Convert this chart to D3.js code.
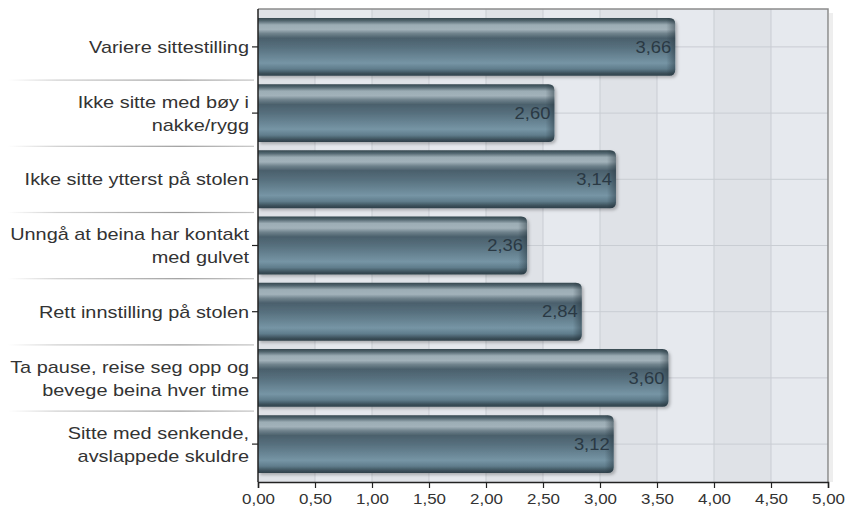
<!DOCTYPE html>
<html>
<head>
<meta charset="utf-8">
<script src="https://cdn.jsdelivr.net/npm/d3@7"></script>
<style>
html,body{margin:0;padding:0;background:#fff;}
svg{display:block;}
text{font-family:"Liberation Sans",Arial,Helvetica,sans-serif;}
</style>
</head>
<body>
<svg id="chart" width="848" height="514"></svg>
<script>
const categories = [
  ["Variere sittestilling"],
  ["Ikke sitte med bøy i", "nakke/rygg"],
  ["Ikke sitte ytterst på stolen"],
  ["Unngå at beina har kontakt", "med gulvet"],
  ["Rett innstilling på stolen"],
  ["Ta pause, reise seg opp og", "bevege beina hver time"],
  ["Sitte med senkende,", "avslappede skuldre"]
];
const values = [3.66, 2.60, 3.14, 2.36, 2.84, 3.60, 3.12];
const xTicks = [0, 0.5, 1, 1.5, 2, 2.5, 3, 3.5, 4, 4.5, 5];

const W = 848, H = 514;
const m = {left: 258, right: 20, top: 9, bottom: 32};
const svg = d3.select("#chart");
const defs = svg.append("defs");
const fmt = v => d3.format(".2f")(v).replace(".", ",");

const x = d3.scaleLinear().domain([0, 5]).range([m.left, W - m.right]);
const idx = d3.range(categories.length);
const y = d3.scaleBand().domain(idx).range([m.top, H - m.bottom]).paddingInner(0.125).paddingOuter(0.135);

// gradients
const bg = defs.append("linearGradient").attr("id", "barGrad").attr("x1", 0).attr("y1", 0).attr("x2", 0).attr("y2", 1);
[[0, "#34474f"], [0.05, "#52666f"], [0.12, "#9cadb5"], [0.2, "#a2b2ba"], [0.27, "#6f828c"], [0.35, "#4b606c"],
 [0.5, "#566f7d"], [0.78, "#7695a5"], [0.88, "#607d8c"], [0.96, "#3a4e58"], [1, "#2f404a"]]
  .forEach(([o, c]) => bg.append("stop").attr("offset", o).attr("stop-color", c));
const cg = defs.append("linearGradient").attr("id", "capGrad").attr("x1", 0).attr("y1", 0).attr("x2", 1).attr("y2", 0);
cg.append("stop").attr("offset", 0).attr("stop-color", "#1e2d36").attr("stop-opacity", 0);
cg.append("stop").attr("offset", 1).attr("stop-color", "#1e2d36").attr("stop-opacity", 0.45);
const sg = defs.append("linearGradient").attr("id", "sepGrad").attr("x1", 0).attr("y1", 0).attr("x2", 1).attr("y2", 0);
[[0, "#ffffff"], [0.2, "#cfcfcf"], [0.7, "#9a9a9a"], [1, "#c4c4c4"]]
  .forEach(([o, c]) => sg.append("stop").attr("offset", o).attr("stop-color", c));
const f = defs.append("filter").attr("id", "shadow").attr("x", "-5%").attr("y", "-20%").attr("width", "110%").attr("height", "150%");
f.append("feDropShadow").attr("dx", 2).attr("dy", 2).attr("stdDeviation", 1.5).attr("flood-color", "#000").attr("flood-opacity", 0.25);

const pTop = m.top, pBot = H - m.bottom, pL = m.left, pR = W - m.right;

// plot shadow on right
svg.append("rect").attr("x", pR + 1).attr("y", pTop + 4).attr("width", 4).attr("height", pBot - pTop - 4)
  .attr("fill", "#eeeeee");

// plot background with alternating stripes
const bands = xTicks.slice(0, -1);
svg.append("g").selectAll("rect").data(bands).join("rect")
  .attr("x", d => x(d)).attr("y", pTop)
  .attr("width", d => x(d + 0.5) - x(d)).attr("height", pBot - pTop)
  .attr("fill", (d, i) => i % 2 === 0 ? "#dfe2e7" : "#e6e9ee");

// grid lines
svg.append("g").selectAll("line").data(xTicks.slice(1, -1)).join("line")
  .attr("x1", d => x(d)).attr("x2", d => x(d)).attr("y1", pTop).attr("y2", pBot)
  .attr("stroke", "#c9cdd3").attr("stroke-width", 1);
svg.append("g").selectAll("line").data(idx).join("line")
  .attr("x1", pL).attr("x2", pR)
  .attr("y1", d => y(d) + y.bandwidth() / 2).attr("y2", d => y(d) + y.bandwidth() / 2)
  .attr("stroke", "#c9cdd3").attr("stroke-width", 1);

// border top/right
svg.append("path").attr("d", `M${pL},${pTop}H${pR}V${pBot}`).attr("fill", "none")
  .attr("stroke", "#8c8c8c").attr("stroke-width", 1.5);

// bars
const r = 6;
const barPath = (x0, x1, y0, h) => {
  const rr = Math.min(r, (x1 - x0));
  return `M${x0},${y0}H${x1 - rr}Q${x1},${y0} ${x1},${y0 + rr}V${y0 + h - rr}Q${x1},${y0 + h} ${x1 - rr},${y0 + h}H${x0}Z`;
};
const gb = svg.append("g");
gb.selectAll("path.bar").data(idx).join("path").attr("class", "bar")
  .attr("d", i => barPath(x(0), x(values[i]), y(i), y.bandwidth()))
  .attr("fill", "url(#barGrad)").attr("filter", "url(#shadow)");
gb.selectAll("path.cap").data(idx).join("path").attr("class", "cap")
  .attr("d", i => barPath(x(values[i]) - 9, x(values[i]), y(i), y.bandwidth()))
  .attr("fill", "url(#capGrad)");
gb.selectAll("text").data(idx).join("text")
  .attr("transform", i => `translate(${x(values[i]) - 4},${y(i) + y.bandwidth() / 2}) scale(1.15,1)`)
  .attr("dy", "0.36em")
  .attr("text-anchor", "end")
  .attr("font-size", 16)
  .attr("fill", "#2a3944")
  .text(i => fmt(values[i]));

// left separators
svg.append("g").selectAll("rect").data(idx.slice(0, -1)).join("rect")
  .attr("x", 8).attr("width", pL - 12)
  .attr("y", i => y(i) + y.step() - (y.step() - y.bandwidth()) / 2 - 0.5).attr("height", 1.2)
  .attr("fill", "url(#sepGrad)");

// left axis
svg.append("line").attr("x1", pL).attr("x2", pL).attr("y1", pTop).attr("y2", pBot)
  .attr("stroke", "#222").attr("stroke-width", 1.5);
const ly = svg.append("g");
ly.selectAll("line").data(idx).join("line")
  .attr("x1", pL - 6).attr("x2", pL)
  .attr("y1", i => y(i) + y.bandwidth() / 2).attr("y2", i => y(i) + y.bandwidth() / 2)
  .attr("stroke", "#222").attr("stroke-width", 1.2);
const lh = 23;
ly.selectAll("text").data(idx).join("text")
  .attr("transform", `translate(${pL - 9},0) scale(1.17,1)`)
  .attr("text-anchor", "end")
  .attr("font-size", 17)
  .attr("fill", "#333")
  .each(function (i) {
    const lines = categories[i];
    const cy = y(i) + y.bandwidth() / 2;
    const t = d3.select(this);
    lines.forEach((ln, k) => {
      t.append("tspan").attr("x", 0)
        .attr("y", cy + (k - (lines.length - 1) / 2) * lh)
        .attr("dy", "0.36em").text(ln);
    });
  });

// bottom axis
const gx = svg.append("g").attr("transform", `translate(0,${pBot})`)
  .call(d3.axisBottom(x).tickValues(xTicks).tickFormat(fmt).tickSize(6).tickPadding(5));
gx.select(".domain").attr("stroke", "#222").attr("stroke-width", 1.5);
gx.selectAll(".tick line").attr("stroke", "#222").attr("stroke-width", 1.2);
gx.selectAll(".tick text").attr("font-size", 15).attr("fill", "#333")
  .attr("transform", "scale(1.13,1)")
  .attr("font-family", "Liberation Sans, Arial, sans-serif");
</script>
</body>
</html>
